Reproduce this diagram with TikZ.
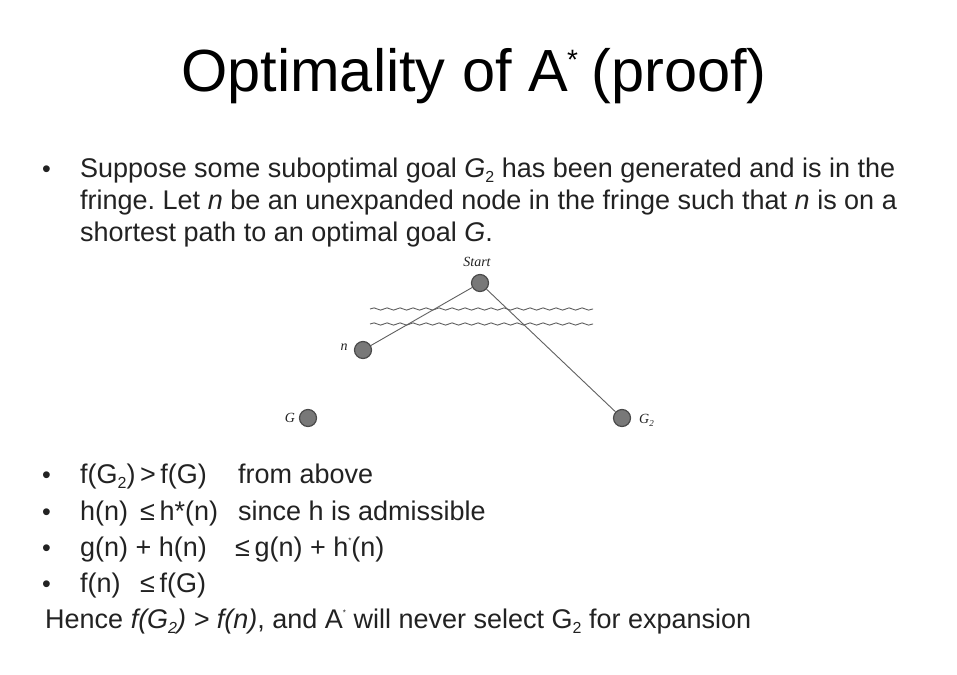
\documentclass[tikz,border=0pt]{standalone}
\usepackage{fontspec}
\setmainfont{Liberation Sans}
\newfontfamily\figserif{Liberation Serif}
\usetikzlibrary{decorations.pathmorphing}
\definecolor{txt}{HTML}{222222}
\definecolor{nodefill}{HTML}{787878}
\definecolor{nodeline}{HTML}{4A4A4A}
\definecolor{edgecol}{HTML}{606060}
\newcommand{\tinystar}{\raisebox{0.45em}{\fontsize{8}{8}\selectfont *}}
\newcommand{\lowtwo}{\raisebox{-0.22em}{\fontsize{16}{16}\selectfont 2}}
\frenchspacing
\begin{document}
\begin{tikzpicture}[x=1pt,y=-1pt,
  body/.style={anchor=base west,inner sep=0pt,text=txt,font=\fontsize{27}{32}\selectfont},
  bul/.style={anchor=base west,inner sep=0pt,text=txt,font=\fontsize{25}{32}\selectfont},
  gnode/.style={circle,fill=nodefill,draw=nodeline,line width=1.2pt,minimum size=17pt,inner sep=0pt},
  glabel/.style={inner sep=0pt,text=txt,font=\figserif\itshape\fontsize{14}{14}\selectfont},
  edge/.style={draw=edgecol,line width=0.9pt},
  fringe/.style={draw=edgecol,line width=0.9pt,decorate,decoration={snake,amplitude=1.1pt,segment length=13pt}}]
\useasboundingbox[fill=white] (0,0) rectangle (957,674);
% title
\node[anchor=base,inner sep=0pt,text=black,font=\fontsize{59.5}{60}\selectfont] (title) at (474,92) {Optimality of A\kern-1pt\raisebox{22pt}{\fontsize{28}{28}\selectfont *}\kern-3pt{} (proof)};
% first bullet
\node[bul] (b1) at (42,177) {\textbullet};
\node[body] (l1) at (80,177) {Suppose some suboptimal goal \textit{G}\lowtwo{} has been generated and is in the};
\node[body] (l2) at (80,209) {fringe. Let \textit{n} be an unexpanded node in the fringe such that \textit{n} is on a};
\node[body] (l3) at (80,241) {shortest path to an optimal goal \textit{G}.};
% diagram
\draw[fringe] (370,309) -- (593,309);
\draw[fringe] (370,324) -- (593,324);
\node[gnode] (start) at (480,283) {};
\node[gnode] (n) at (363,350) {};
\node[gnode] (G) at (308,418) {};
\node[gnode] (G2) at (622,418) {};
\draw[edge] (start) -- (n);
\draw[edge] (start) -- (G2);
\node[glabel] (startlab) at (477,262) {Start};
\node[glabel] (nlab) at (344,347) {n};
\node[glabel] (Glab) at (290,418) {G};
\node[glabel,anchor=west] (G2lab) at (639,420) {G\raisebox{-0.2em}{\fontsize{9}{9}\selectfont 2}};
% lower bullets
\node[bul] (b2) at (42,483) {\textbullet};
\node[body] (m1a) at (80,483) {f(G\lowtwo)\,>\,f(G)};
\node[body] (m1b) at (238,483) {from above};
\node[bul] (b3) at (42,520) {\textbullet};
\node[body] (m2a) at (80,520) {h(n)};
\node[body] (m2b) at (140,520) {≤\,h*(n)};
\node[body] (m2c) at (238,520) {since h is admissible};
\node[bul] (b4) at (42,556) {\textbullet};
\node[body] (m3a) at (80,556) {g(n) + h(n)};
\node[body] (m3b) at (235,556) {≤\,g(n) + h\tinystar(n)};
\node[bul] (b5) at (42,592) {\textbullet};
\node[body] (m4a) at (80,592) {f(n)};
\node[body] (m4b) at (140,592) {≤\,f(G)};
\node[body] (hence) at (45,628) {Hence \textit{f(G\lowtwo) > f(n)}, and A\tinystar{} will never select G\lowtwo{} for expansion};
\end{tikzpicture}
\end{document}
